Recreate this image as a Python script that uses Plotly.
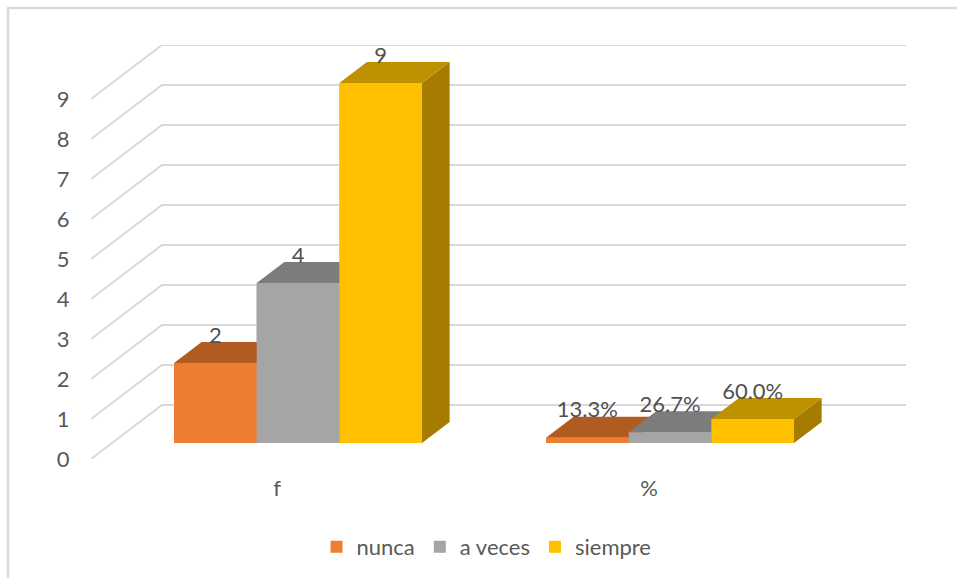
import plotly.graph_objects as go

categories = ['f', '%']
series_names = ['nunca', 'a veces', 'siempre']
nunca = [2, 0.133]
a_veces = [4, 0.267]
siempre = [9, 0.6]
labels_nunca = ['2', '13.3%']
labels_a_veces = ['4', '26.7%']
labels_siempre = ['9', '60.0%']
y_ticks = [0, 1, 2, 3, 4, 5, 6, 7, 8, 9]

front_colors = ['#ED7D31', '#A5A5A5', '#FFC000']
top_colors = ['#B25B20', '#7C7C7C', '#BF9000']
side_colors = ['#8C4A1C', '#636363', '#A67C00']
grid_color = '#D9D9D9'

# oblique projection of the 3d box, in axis units
DEPTH_X = 0.1909
DEPTH_Y = 1.35
BAR_NEAR = 0.296
BAR_FAR = 0.685
BAR_WIDTH = 1 / 4.5

X_MIN = -0.5
X_MAX = 1.5 + DEPTH_X
Y_MAX = 9 + DEPTH_Y


def project(x, y, depth):
    return x + depth * DEPTH_X, y + depth * DEPTH_Y


def face(fig, corners, color):
    points = [project(*corner) for corner in corners]
    fig.add_scatter(x=[p[0] for p in points] + [points[0][0]],
                    y=[p[1] for p in points] + [points[0][1]],
                    mode='lines',
                    fill='toself',
                    fillcolor=color,
                    line=dict(width=0, color=color),
                    hoverinfo='skip',
                    showlegend=False)


fig = go.Figure()

# walls
for tick in y_ticks:
    fig.add_scatter(x=[X_MIN, X_MIN + DEPTH_X, X_MAX],
                    y=[tick, tick + DEPTH_Y, tick + DEPTH_Y],
                    mode='lines',
                    line=dict(width=2, color=grid_color),
                    hoverinfo='skip',
                    showlegend=False)

all_values = [nunca, a_veces, siempre]
all_labels = [labels_nunca, labels_a_veces, labels_siempre]

# real bars give the legend and the front faces
for index, name in enumerate(series_names):
    near_x, near_y = project(0, 0, BAR_NEAR)
    fig.add_bar(x=[pos + near_x + (index - 1) * BAR_WIDTH for pos in range(len(categories))],
                y=all_values[index],
                base=near_y,
                width=BAR_WIDTH,
                name=name,
                marker=dict(color=front_colors[index], line=dict(width=0)))

# painter's order so each bar hides the one on its left
for pos in range(len(categories)):
    for index in range(len(series_names)):
        value = all_values[index][pos]
        left = pos + (index - 1.5) * BAR_WIDTH
        right = left + BAR_WIDTH
        face(fig, [(right, 0, BAR_NEAR), (right, 0, BAR_FAR), (right, value, BAR_FAR), (right, value, BAR_NEAR)],
             side_colors[index])
        face(fig, [(left, value, BAR_NEAR), (right, value, BAR_NEAR), (right, value, BAR_FAR), (left, value, BAR_FAR)],
             top_colors[index])
        face(fig, [(left, 0, BAR_NEAR), (right, 0, BAR_NEAR), (right, value, BAR_NEAR), (left, value, BAR_NEAR)],
             front_colors[index])

for index in range(len(series_names)):
    near_x, near_y = project(0, 0, BAR_NEAR)
    fig.add_scatter(x=[pos + near_x + (index - 1) * BAR_WIDTH for pos in range(len(categories))],
                    y=[value + near_y + 0.65 for value in all_values[index]],
                    mode='text',
                    text=all_labels[index],
                    textposition='middle center',
                    textfont=dict(family='Lato', size=22, color='#505050'),
                    hoverinfo='skip',
                    showlegend=False)

fig.update_xaxes(range=[X_MIN, X_MAX],
                 tickvals=[0, 1],
                 ticktext=categories,
                 ticks='outside',
                 ticklen=10,
                 tickcolor='rgba(0,0,0,0)',
                 tickfont=dict(family='Lato', size=22, color='#595959'),
                 showgrid=False,
                 zeroline=False,
                 showline=False)

fig.update_yaxes(range=[0, Y_MAX],
                 tickvals=y_ticks,
                 ticks='outside',
                 ticklen=16,
                 tickcolor='rgba(0,0,0,0)',
                 tickfont=dict(family='Lato', size=22, color='#595959'),
                 showgrid=False,
                 zeroline=False,
                 showline=False)

# chart frame, only the top and left edges are in the picture
fig.add_shape(type='line', xref='paper', yref='paper',
              x0=-84 / 815, x1=866 / 815, y0=451 / 414, y1=451 / 414,
              line=dict(width=2.5, color=grid_color))
fig.add_shape(type='line', xref='paper', yref='paper',
              x0=-83 / 815, x1=-83 / 815, y0=-119 / 414, y1=451 / 414,
              line=dict(width=2.5, color=grid_color))

fig.update_layout(width=957,
                  height=578,
                  autosize=False,
                  margin=dict(l=91, r=51, t=45, b=119),
                  paper_bgcolor='white',
                  plot_bgcolor='white',
                  barmode='overlay',
                  legend=dict(orientation='h',
                              xref='container',
                              yref='container',
                              x=0.5084,
                              xanchor='center',
                              y=0.0536,
                              yanchor='middle',
                              itemclick=False,
                              font=dict(family='Lato', size=22, color='#595959')))

fig.write_html("out.html",
               config=dict(displayModeBar=False),
               post_script="document.body.style.margin = '0';")
